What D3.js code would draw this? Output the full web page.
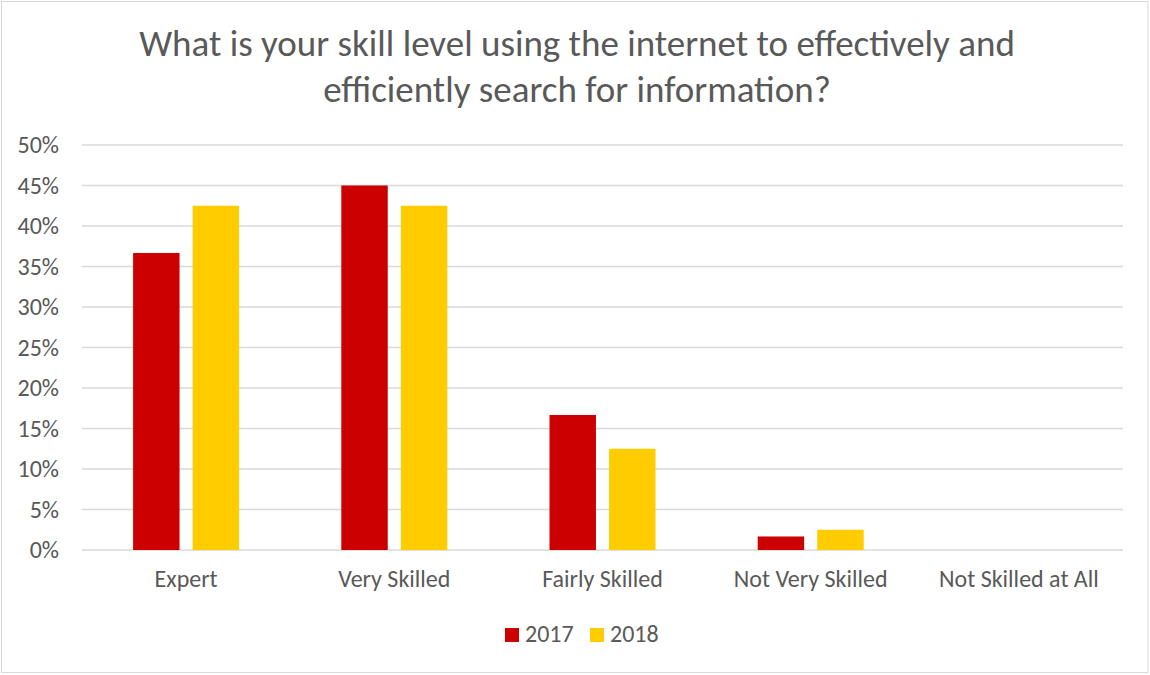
<!DOCTYPE html>
<html>
<head>
<meta charset="utf-8">
<script src="https://cdn.jsdelivr.net/npm/d3@7"></script>
<style>
  html, body { margin: 0; padding: 0; background: #fff; }
  svg { display: block; font-family: Carlito, "Open Sans", sans-serif; }
</style>
</head>
<body>
<svg id="chart" width="1150" height="675"></svg>
<script>
// Survey responses by skill level, share of respondents per year
const categories = ["Expert", "Very Skilled", "Fairly Skilled", "Not Very Skilled", "Not Skilled at All"];
const seriesNames = ["2017", "2018"];
const values2017 = [0.3667, 0.45, 0.1667, 0.0167, 0];
const values2018 = [0.425, 0.425, 0.125, 0.025, 0];
const yTicks = [0, 0.05, 0.10, 0.15, 0.20, 0.25, 0.30, 0.35, 0.40, 0.45, 0.50];
const colors = ["#CC0000", "#FFCC00"];

const svg = d3.select("#chart");
const W = 1150, H = 675;
const plot = { left: 82, right: 1123, top: 145, bottom: 550 };
const labelFont = 'Carlito, "Open Sans", sans-serif';

// chart frame
svg.append("rect")
  .attr("x", 1.5).attr("y", 1.5)
  .attr("width", W - 3.5).attr("height", H - 4)
  .attr("fill", "#fff").attr("stroke", "#D9D9D9").attr("stroke-width", 1);

// title
const title = svg.append("text")
  .attr("text-anchor", "middle")
  .attr("fill", "#595959")
  .attr("font-size", 37);
title.append("tspan").attr("x", 577).attr("y", 56)
  .text("What is your skill level using the internet to effectively and");
title.append("tspan").attr("x", 577).attr("y", 102)
  .text("efficiently search for information?");

const y = d3.scaleLinear().domain([0, 0.5]).range([plot.bottom, plot.top]);
const x0 = d3.scaleBand().domain(categories).range([plot.left, plot.right]).padding(0);

// gridlines
svg.append("g")
  .selectAll("line")
  .data(yTicks)
  .join("line")
  .attr("x1", plot.left).attr("x2", plot.right)
  .attr("y1", d => y(d)).attr("y2", d => y(d))
  .attr("stroke", "#D9D9D9").attr("stroke-width", 1.3);

// y axis labels
const yAxis = d3.axisLeft(y)
  .tickValues(yTicks)
  .tickFormat(d3.format(".0%"))
  .tickSize(0)
  .tickPadding(0);
const gy = svg.append("g").attr("transform", "translate(59,0)").call(yAxis);
gy.select(".domain").remove();
gy.selectAll("text")
  .attr("fill", "#595959")
  .attr("font-size", 24)
  .attr("font-family", labelFont);

// x axis labels
const xAxis = d3.axisBottom(x0).tickSize(0).tickPadding(0);
const gx = svg.append("g").attr("transform", `translate(0,${plot.bottom + 20})`).call(xAxis);
gx.select(".domain").remove();
gx.selectAll("text")
  .attr("fill", "#595959")
  .attr("font-size", 24)
  .attr("font-family", labelFont);

// bars
const data = categories.map((c, i) => ({ cat: c, vals: [values2017[i], values2018[i]] }));
const groupWidth = 106;
const groups = svg.append("g").selectAll("g")
  .data(data)
  .join("g")
  .attr("transform", d => `translate(${x0(d.cat) + x0.bandwidth() / 2 - groupWidth / 2},0)`);

const x1 = d3.scaleBand().domain(seriesNames).range([0, groupWidth]).paddingInner(0.22).paddingOuter(0);

groups.selectAll("rect")
  .data(d => d.vals.map((v, j) => ({ s: seriesNames[j], v, j })))
  .join("rect")
  .attr("x", d => x1(d.s))
  .attr("width", x1.bandwidth())
  .attr("y", d => y(d.v))
  .attr("height", d => y(0) - y(d.v))
  .attr("fill", d => colors[d.j]);

// legend
const legendItems = [
  { name: seriesNames[0], color: colors[0], x: 505 },
  { name: seriesNames[1], color: colors[1], x: 590 }
];
const lg = svg.append("g").selectAll("g")
  .data(legendItems)
  .join("g")
  .attr("transform", d => `translate(${d.x},628)`);
lg.append("rect").attr("width", 14).attr("height", 14).attr("fill", d => d.color);
lg.append("text")
  .attr("x", 20).attr("y", 14)
  .attr("fill", "#595959")
  .attr("font-size", 24)
  .text(d => d.name);
</script>
</body>
</html>
